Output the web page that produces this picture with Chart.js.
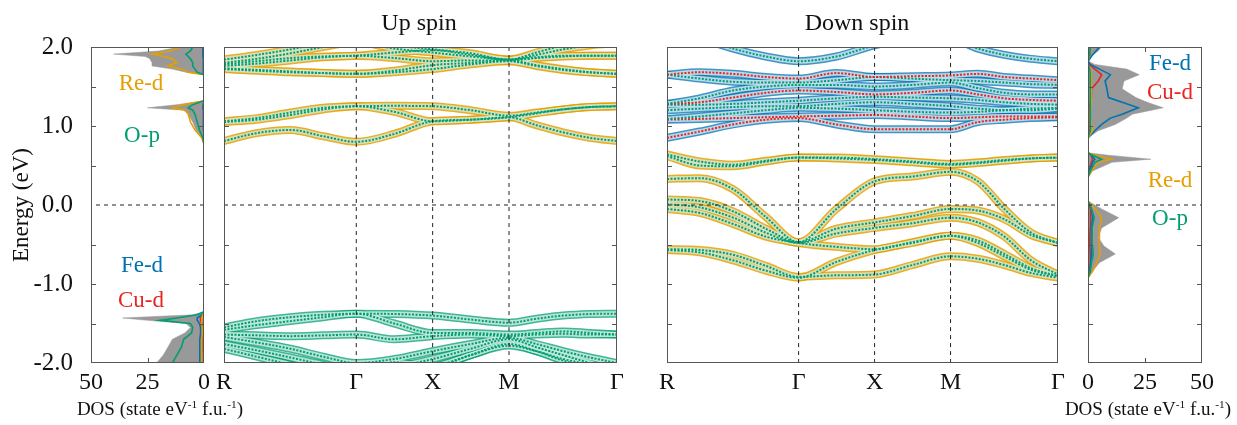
<!DOCTYPE html>
<html>
<head>
<meta charset="utf-8">
<script src="https://cdn.jsdelivr.net/npm/chart.js@4.4.1/dist/chart.umd.min.js"></script>
<style>
body { margin: 0; background: #fff; width: 1237px; height: 425px; position: relative; overflow: hidden; }
canvas { position: absolute; top: 0; }
.txt { position: absolute; white-space: nowrap; font-family: "Liberation Serif", serif; transform: translate(-50%, -50%); color: #111; }
.txt sup { font-size: 60%; }
</style>
</head>
<body>
<canvas id="dosUp" width="215" height="425" style="left:0"></canvas>
<canvas id="bandUp" width="413" height="425" style="left:214px"></canvas>
<canvas id="bandDn" width="411" height="425" style="left:657px"></canvas>
<canvas id="dosDn" width="159" height="425" style="left:1078px"></canvas>

<div class="txt" style="left:419px;top:22px;font-size:24px">Up spin</div>
<div class="txt" style="left:857px;top:22px;font-size:24px">Down spin</div>
<div class="txt" style="left:160px;top:409px;font-size:19px">DOS (state eV<sup>-1</sup> f.u.<sup>-1</sup>)</div>
<div class="txt" style="left:1148px;top:409px;font-size:19px">DOS (state eV<sup>-1</sup> f.u.<sup>-1</sup>)</div>

<div class="txt" style="left:141px;top:83px;font-size:23px;color:#E69F00">Re-d</div>
<div class="txt" style="left:142px;top:135px;font-size:23px;color:#009E73">O-p</div>
<div class="txt" style="left:142px;top:265px;font-size:23px;color:#0072B2">Fe-d</div>
<div class="txt" style="left:141px;top:300px;font-size:23px;color:#E8251F">Cu-d</div>
<div class="txt" style="left:1170px;top:63px;font-size:23px;color:#0072B2">Fe-d</div>
<div class="txt" style="left:1170px;top:92px;font-size:23px;color:#E8251F">Cu-d</div>
<div class="txt" style="left:1170px;top:180px;font-size:23px;color:#E69F00">Re-d</div>
<div class="txt" style="left:1170px;top:218px;font-size:23px;color:#009E73">O-p</div>

<script>
// k path R-Γ-X-M-Γ (simple cubic, units of pi/a)
var kPath = [0, 0.43, 0.87, 1.3, 1.732, 2.23, 2.732, 3.23, 3.732, 4.09, 4.44, 4.79, 5.146];
var kSym = [0, 1.732, 2.732, 3.732, 5.146];
var kSymLabels = ['R', 'Γ', 'X', 'M', 'Γ'];

// up spin, conduction (Re-d / O-p)
var upCond = [
    [1.84, 1.90, 1.97, 2.05, 2.10, 2.02, 1.97, 1.92, 1.84, 1.93, 2.02, 2.08, 2.10],
    [1.80, 1.85, 1.92, 2.00, 2.06, 1.98, 1.93, 1.88, 1.84, 1.90, 1.97, 2.02, 2.05],
    [1.78, 1.82, 1.86, 1.88, 1.89, 1.93, 1.96, 1.90, 1.84, 1.87, 1.89, 1.89, 1.89],
    [1.76, 1.79, 1.83, 1.87, 1.89, 1.86, 1.82, 1.83, 1.83, 1.86, 1.88, 1.89, 1.89],
    [1.73, 1.71, 1.69, 1.67, 1.66, 1.70, 1.77, 1.80, 1.83, 1.77, 1.72, 1.68, 1.66],
    [1.72, 1.70, 1.68, 1.67, 1.66, 1.68, 1.72, 1.78, 1.82, 1.76, 1.71, 1.68, 1.66],
    [1.06, 1.10, 1.17, 1.23, 1.25, 1.255, 1.25, 1.20, 1.13, 1.17, 1.21, 1.24, 1.25],
    [1.05, 1.08, 1.14, 1.21, 1.25, 1.18, 1.06, 1.08, 1.11, 1.16, 1.21, 1.24, 1.25],
    [0.81, 0.91, 0.95, 0.87, 0.80, 0.90, 1.06, 1.08, 1.11, 1.01, 0.92, 0.85, 0.81]
];
// up spin, valence (O-p)
var upVal = [
    [-1.55, -1.47, -1.42, -1.39, -1.375, -1.38, -1.40, -1.45, -1.49, -1.44, -1.40, -1.38, -1.375],
    [-1.58, -1.52, -1.47, -1.42, -1.375, -1.50, -1.62, -1.62, -1.64, -1.62, -1.60, -1.62, -1.64],
    [-1.64, -1.65, -1.66, -1.65, -1.64, -1.70, -1.66, -1.64, -1.66, -1.64, -1.63, -1.64, -1.64],
    [-1.67, -1.74, -1.82, -1.92, -2.00, -1.95, -1.85, -1.76, -1.68, -1.76, -1.85, -1.93, -2.00],
    [-1.76, -1.84, -1.93, -2.02, -2.10, -2.05, -1.95, -1.82, -1.70, -1.80, -1.90, -2.00, -2.10],
    [-1.82, -1.92, -2.02, -2.10, -2.15, -2.10, -2.05, -1.90, -1.76, -1.85, -1.97, -2.05, -2.10],
    [-2.30, -2.25, -2.20, -2.15, -2.10, -1.99, -2.05, -1.90, -1.78, -1.85, -1.95, -2.02, -2.10]
];
// down spin, conduction (Fe-d / Cu-d)
var dnCond = [
    [2.30, 2.12, 1.98, 1.88, 1.82, 1.88, 2.02, 2.10, 2.10, 1.98, 1.90, 1.85, 1.82],
    [1.65, 1.68, 1.66, 1.62, 1.60, 1.67, 1.62, 1.63, 1.64, 1.66, 1.62, 1.60, 1.58],
    [1.65, 1.60, 1.56, 1.55, 1.55, 1.58, 1.62, 1.60, 1.58, 1.57, 1.55, 1.53, 1.52],
    [1.28, 1.35, 1.45, 1.50, 1.52, 1.52, 1.50, 1.52, 1.55, 1.48, 1.42, 1.40, 1.40],
    [1.28, 1.30, 1.36, 1.42, 1.45, 1.43, 1.40, 1.42, 1.45, 1.40, 1.35, 1.33, 1.32],
    [1.27, 1.27, 1.28, 1.30, 1.32, 1.35, 1.37, 1.36, 1.35, 1.33, 1.30, 1.28, 1.27],
    [1.20, 1.22, 1.24, 1.25, 1.25, 1.28, 1.30, 1.28, 1.25, 1.22, 1.20, 1.20, 1.22],
    [1.09, 1.12, 1.16, 1.20, 1.23, 1.22, 1.20, 1.18, 1.17, 1.18, 1.20, 1.22, 1.23],
    [1.08, 1.09, 1.10, 1.11, 1.12, 1.13, 1.14, 1.12, 1.10, 1.11, 1.12, 1.12, 1.12],
    [0.85, 0.93, 1.02, 1.08, 1.10, 1.02, 0.96, 0.96, 0.96, 1.05, 1.08, 1.10, 1.11]
];
var dnCondInner = ['#009E73', '#E8251F', '#009E73', '#009E73', '#E8251F', '#009E73', '#009E73', '#009E73', '#E8251F', '#E8251F'];
// down spin, valence (Re-d / O-p)
var dnVal = [
    [0.64, 0.55, 0.51, 0.56, 0.60, 0.60, 0.58, 0.55, 0.52, 0.54, 0.57, 0.59, 0.60],
    [0.62, 0.50, 0.49, 0.55, 0.60, 0.59, 0.57, 0.54, 0.51, 0.53, 0.56, 0.59, 0.60],
    [0.33, 0.34, 0.20, -0.15, -0.47, -0.05, 0.30, 0.36, 0.42, 0.30, -0.05, -0.35, -0.48],
    [0.07, 0.05, -0.08, -0.30, -0.47, -0.30, -0.22, -0.14, -0.05, -0.07, -0.18, -0.38, -0.48],
    [0.01, -0.03, -0.16, -0.35, -0.48, -0.36, -0.29, -0.23, -0.16, -0.22, -0.40, -0.70, -0.88],
    [-0.05, -0.10, -0.24, -0.40, -0.48, -0.53, -0.56, -0.47, -0.39, -0.45, -0.62, -0.80, -0.90],
    [-0.56, -0.57, -0.63, -0.77, -0.91, -0.89, -0.88, -0.76, -0.65, -0.68, -0.76, -0.86, -0.92],
    [-0.57, -0.60, -0.70, -0.83, -0.92, -0.72, -0.57, -0.48, -0.39, -0.48, -0.65, -0.82, -0.90]
];

// DOS up spin (left panel)
var dosUpE     = [-2.0, -1.9, -1.8, -1.7, -1.62, -1.55, -1.5, -1.46, -1.43, -1.39, -1.35, 0.77, 0.85, 0.95, 1.05, 1.15, 1.2, 1.23, 1.27, 1.32, 1.65, 1.68, 1.72, 1.76, 1.8, 1.85, 1.88, 1.91, 1.95, 2.0];
var dosUpTotal = [21, 18, 16, 14, 8.5, 6, 8, 25, 36, 5, 0, 0, 1, 3.5, 5, 7, 9, 25, 12, 0, 0, 8, 14, 23, 23, 24, 26, 40, 20, 11];
var dosUpO     = [14, 12, 10, 9, 5.5, 5, 6, 19.5, 12, 3, 0, 0, 0.5, 2, 3, 4, 5, 7, 5, 0, 0, 3, 4, 5, 5, 6, 7, 8, 6, 5];
var dosUpRe    = [1, 1, 1, 1, 0.8, 0.8, 1, 1, 1, 0.5, 0, 0, 1, 4, 6, 7, 8, 14, 9, 0, 0, 7, 10, 16, 12, 14, 18, 23, 15, 10];
var dosUpFe    = [2, 2, 1.8, 1.8, 1.5, 1.5, 2, 3, 3, 1, 0, 0, 0, 0.2, 0.2, 0.3, 0.3, 0.5, 0.3, 0, 0, 0.2, 0.3, 0.3, 0.3, 0.3, 0.5, 0.5, 0.5, 0.5];
var dosUpCu    = [1, 1, 0.8, 0.8, 0.8, 0.8, 1, 1.5, 1.5, 0.5, 0, 0, 0, 0, 0, 0, 0, 0.2, 0.2, 0, 0, 0, 0, 0, 0, 0, 0, 0, 0, 0];

// DOS down spin (right panel)
var dosDnE     = [-0.92, -0.84, -0.73, -0.62, -0.52, -0.41, -0.29, -0.16, -0.05, 0.05, 0.35, 0.43, 0.54, 0.58, 0.63, 0.66, 0.85, 0.94, 1.02, 1.1, 1.15, 1.23, 1.3, 1.36, 1.47, 1.57, 1.65, 1.72, 1.78, 1.82, 1.9, 1.95, 2.0];
var dosDnTotal = [0, 2, 5, 12, 7, 4.5, 6, 13.5, 6, 0, 0, 2, 10.5, 27.6, 9, 0, 0, 4.5, 12, 17, 19.5, 33, 26, 21, 15, 15.8, 22.5, 17, 3, 0.3, 2, 4.5, 6];
var dosDnFe    = [0, 0.8, 1.2, 1.5, 1.5, 1.5, 1.5, 2, 1.5, 0, 0, 0.5, 2, 3, 1.5, 0, 0, 3, 6, 9.8, 15, 22, 15, 9, 8.3, 7.5, 9.8, 5, 1, 0, 2, 3.5, 5];
var dosDnCu    = [0, 0.5, 1, 1, 0.8, 0.8, 1, 1.2, 1, 0, 0, 0.5, 1.5, 2, 1.5, 0, 0, 0.8, 1, 1, 1, 0.8, 1, 1.5, 1.5, 4.5, 6, 3, 0.5, 0, 0.5, 0.8, 1];
var dosDnRe    = [0, 2, 3.8, 5.3, 5, 5, 5, 6, 3, 0, 0, 1.5, 4.5, 10.3, 3, 0, 0, 2, 1.5, 1, 1, 1.2, 1.5, 1.5, 1.5, 1.5, 1.5, 1, 0, 0, 0.5, 0.8, 1];
var dosDnO     = [0, 1, 1.5, 2.3, 2, 1.8, 1.8, 2.7, 1.5, 0, 0, 1, 3, 6, 2, 0, 0, 1, 1, 1, 1, 1, 1, 1, 1, 1, 1, 0.8, 0, 0, 0.5, 0.8, 1];

var ORANGE = '#E69F00', GREEN = '#009E73', BLUE = '#0072B2', RED = '#E8251F';
var SERIF = '"Liberation Serif", "Times New Roman", serif';

Chart.defaults.animation = false;
Chart.defaults.font.family = SERIF;
Chart.defaults.color = '#111';
Chart.defaults.plugins.legend.display = false;
Chart.defaults.plugins.tooltip.enabled = false;

// box round the plot area and small inward ticks
var framePlugin = {
    id: 'frame',
    afterDatasetsDraw: function (chart, args, opts) {
        var a = chart.chartArea, ctx = chart.ctx;
        ctx.save();
        ctx.strokeStyle = '#555';
        ctx.lineWidth = 1;
        ctx.strokeRect(Math.round(a.left) + 0.5, Math.round(a.top) + 0.5, Math.round(a.right - a.left) - 1, Math.round(a.bottom - a.top) - 1);
        ctx.beginPath();
        (opts.yTicks || []).forEach(function (v) {
            var y = Math.round(chart.scales.y.getPixelForValue(v)) + 0.5;
            ctx.moveTo(a.left, y); ctx.lineTo(a.left + 5, y);
            ctx.moveTo(a.right, y); ctx.lineTo(a.right - 5, y);
        });
        (opts.xTicks || []).forEach(function (v) {
            var x = Math.round(chart.scales.x.getPixelForValue(v)) + 0.5;
            ctx.moveTo(x, a.top); ctx.lineTo(x, a.top + 5);
            ctx.moveTo(x, a.bottom); ctx.lineTo(x, a.bottom - 5);
        });
        ctx.stroke();
        ctx.restore();
    }
};

var minorE = [-1.5, -0.5, 0.5, 1.5, -1, 1];

function dashed(pts) {
    return { data: pts, borderColor: '#222', borderWidth: 1, borderDash: [4, 4], pointRadius: 0, order: 0, tension: 0, fill: false, clip: 0 };
}

function bandSets(bands, outer, mid, inner) {
    var sets = [];
    bands.forEach(function (b, n) {
        var pts = kPath.map(function (k, i) { return { x: k, y: b[i] }; });
        var innerColor = Array.isArray(inner) ? inner[n] : inner;
        sets.push({ data: pts, borderColor: outer, borderWidth: 8, order: 3 });
        sets.push({ data: pts, borderColor: mid, borderWidth: 5, order: 2 });
        sets.push({ data: pts, borderColor: innerColor, borderWidth: 2, borderDash: [2, 1.5], order: 1 });
    });
    return sets;
}

function bandChart(id, sets) {
    var kMax = kSym[kSym.length - 1];
    sets.push(dashed([{ x: 0, y: 0 }, { x: kMax, y: 0 }]));
    kSym.slice(1, -1).forEach(function (k) {
        sets.push(dashed([{ x: k, y: -2 }, { x: k, y: 2 }]));
    });
    new Chart(document.getElementById(id), {
        type: 'scatter',
        data: { datasets: sets },
        options: {
            responsive: false,
            devicePixelRatio: 1,
            layout: { padding: { top: 47, left: 10, right: 10, bottom: 0 } },
            elements: { point: { radius: 0 }, line: { cubicInterpolationMode: 'monotone', fill: false } },
            datasets: { scatter: { showLine: true } },
            plugins: { frame: { yTicks: minorE } },
            scales: {
                x: {
                    min: 0, max: kMax,
                    afterBuildTicks: function (s) { s.ticks = kSym.map(function (v) { return { value: v }; }); },
                    afterFit: function (s) { s.height = 62; },
                    ticks: { autoSkip: false, maxRotation: 0, padding: -3, font: { size: 24 }, callback: function (v, i) { return kSymLabels[i]; } },
                    grid: { display: false },
                    border: { display: false }
                },
                y: { display: false, min: -2, max: 2 }
            }
        },
        plugins: [framePlugin]
    });
}

function dosLine(E, vals, color, total) {
    var pts = E.map(function (e, i) { return { x: vals[i], y: e }; });
    if (total) {
        return { data: pts, borderColor: '#999', backgroundColor: '#999', borderWidth: 0.5, fill: 'origin', order: 5, tension: 0 };
    }
    return { data: pts, borderColor: color, borderWidth: 1.6, fill: false, order: 1, tension: 0 };
}

function dosChart(id, E, series, left) {
    var sets = [
        dosLine(E, series[0], null, true),
        dosLine(E, series[1], GREEN),
        dosLine(E, series[2], ORANGE),
        dosLine(E, series[3], BLUE),
        dosLine(E, series[4], RED),
        dashed([{ x: 0, y: 0 }, { x: 50, y: 0 }])
    ];
    new Chart(document.getElementById(id), {
        type: 'line',
        data: { datasets: sets },
        options: {
            responsive: false,
            devicePixelRatio: 1,
            indexAxis: 'y',
            layout: { padding: left ? { top: 47, left: 0, right: 11, bottom: 0 } : { top: 47, left: 10, right: 35, bottom: 0 } },
            elements: { point: { radius: 0 } },
            plugins: { frame: { yTicks: minorE, xTicks: [25] } },
            scales: {
                x: {
                    type: 'linear', min: 0, max: 50, reverse: left,
                    afterBuildTicks: function (s) { s.ticks = [0, 25, 50].map(function (v) { return { value: v }; }); },
                    afterFit: function (s) { s.height = 62; },
                    ticks: { autoSkip: false, maxRotation: 0, padding: -3, font: { size: 24 } },
                    grid: { display: false },
                    border: { display: false }
                },
                y: {
                    type: 'linear', min: -2, max: 2, display: left,
                    afterBuildTicks: function (s) { s.ticks = [-2, -1, 0, 1, 2].map(function (v) { return { value: v }; }); },
                    afterFit: function (s) { s.width = left ? 91 : 0; },
                    ticks: { padding: 10, font: { size: 25 }, callback: function (v) { return v.toFixed(1); } },
                    title: { display: left, text: 'Energy (eV)', font: { size: 23 }, padding: { top: 8, bottom: 0 } },
                    grid: { display: false },
                    border: { display: false }
                }
            }
        },
        plugins: [framePlugin]
    });
}

dosChart('dosUp', dosUpE, [dosUpTotal, dosUpO, dosUpRe, dosUpFe, dosUpCu], true);
dosChart('dosDn', dosDnE, [dosDnTotal, dosDnO, dosDnRe, dosDnFe, dosDnCu], false);

bandChart('bandUp', bandSets(upCond, 'rgba(230,159,0,0.85)', 'rgba(215,230,200,0.9)', GREEN)
    .concat(bandSets(upVal, 'rgba(0,158,115,0.75)', 'rgba(200,235,222,0.9)', GREEN)));
bandChart('bandDn', bandSets(dnCond, 'rgba(0,114,178,0.75)', 'rgba(200,225,240,0.9)', dnCondInner)
    .concat(bandSets(dnVal, 'rgba(230,159,0,0.85)', 'rgba(215,230,200,0.9)', GREEN)));
</script>
</body>
</html>
